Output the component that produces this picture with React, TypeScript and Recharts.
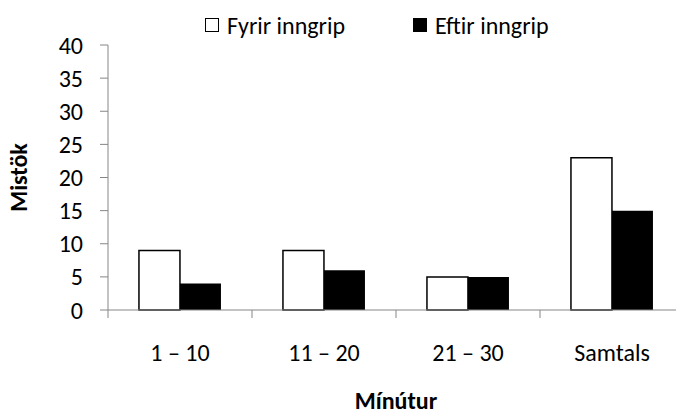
import { BarChart, Bar, XAxis, YAxis, Legend } from "recharts";

const categories = ["1 – 10", "11 – 20", "21 – 30", "Samtals"];
const before = [9, 9, 5, 23];
const after = [4, 6, 5, 15];
const yTicks = [0, 5, 10, 15, 20, 25, 30, 35, 40];

const data = categories.map((name, i) => ({
  name,
  fyrir: before[i],
  eftir: after[i],
}));

const font = "Calibri, Carlito, Lato, sans-serif";
const axisColor = "#868686";
const fs = 24;
const tickLen = 8;
const xTickMargin = 26;

const legendItems = [
  { label: "Fyrir inngrip", fill: "#ffffff" },
  { label: "Eftir inngrip", fill: "#000000" },
];

function LegendContent() {
  return (
    <div
      style={{
        display: "flex",
        alignItems: "center",
        height: 30,
        fontFamily: font,
        fontSize: fs,
        color: "#000",
        paddingLeft: 205,
        gap: 68,
      }}
    >
      {legendItems.map((it) => (
        <div key={it.label} style={{ display: "flex", alignItems: "center" }}>
          <span
            style={{
              display: "inline-block",
              width: 12,
              height: 12,
              background: it.fill,
              border: "1.5px solid #000",
              marginRight: 8,
            }}
          />
          <span>{it.label}</span>
        </div>
      ))}
    </div>
  );
}

// category label plus tick marks on the category boundaries (like Excel)
function CategoryTick(props: any) {
  const { x, y, payload, index, visibleTicksCount } = props;
  const half = payload.offset || 0;
  const axisY = y - tickLen - xTickMargin;
  const edges = [x - half];
  if (index === visibleTicksCount - 1) edges.push(x + half);
  return (
    <g>
      {edges.map((ex) => (
        <line
          key={ex}
          x1={ex}
          x2={ex}
          y1={axisY}
          y2={axisY + tickLen}
          stroke={axisColor}
        />
      ))}
      <text
        x={x}
        y={y}
        dy="0.71em"
        textAnchor="middle"
        fill="#000"
        fontSize={fs}
        fontFamily={font}
      >
        {payload.value}
      </text>
    </g>
  );
}

export default function App() {
  return (
    <div
      style={{
        position: "fixed",
        top: 0,
        left: 0,
        width: 676,
        height: 415,
        overflow: "hidden",
        background: "#fff",
      }}
    >
      <BarChart
        width={686}
        height={415}
        data={data}
        margin={{ top: 15, right: 2, bottom: 0, left: 0 }}
        barCategoryGap="21.5%"
        barGap={0}
        style={{ fontFamily: font }}
      >
        <Legend
          verticalAlign="top"
          height={30}
          content={<LegendContent />}
          wrapperStyle={{ top: 10, left: 0, width: 676 }}
        />
        <XAxis
          dataKey="name"
          height={105}
          tickSize={tickLen}
          tickLine={{ stroke: "none" }}
          tickMargin={xTickMargin}
          stroke={axisColor}
          tick={<CategoryTick />}
          label={{
            value: "Mínútur",
            position: "insideBottom",
            offset: 6,
            fill: "#000",
            fontSize: fs,
            fontWeight: "bold",
            fontFamily: font,
          }}
        />
        <YAxis
          width={108}
          domain={[0, 40]}
          ticks={yTicks}
          interval={0}
          tickSize={8}
          tickMargin={17}
          stroke={axisColor}
          tick={{ fill: "#000", fontSize: fs, fontFamily: font }}
          label={{
            value: "Mistök",
            angle: -90,
            position: "insideLeft",
            offset: 18,
            fill: "#000",
            fontSize: fs,
            fontWeight: "bold",
            fontFamily: font,
            style: { textAnchor: "middle" },
          }}
        />
        <Bar
          dataKey="fyrir"
          name="Fyrir inngrip"
          fill="#ffffff"
          stroke="#000"
          strokeWidth={1.5}
          isAnimationActive={false}
        />
        <Bar
          dataKey="eftir"
          name="Eftir inngrip"
          fill="#000000"
          isAnimationActive={false}
        />
      </BarChart>
    </div>
  );
}
